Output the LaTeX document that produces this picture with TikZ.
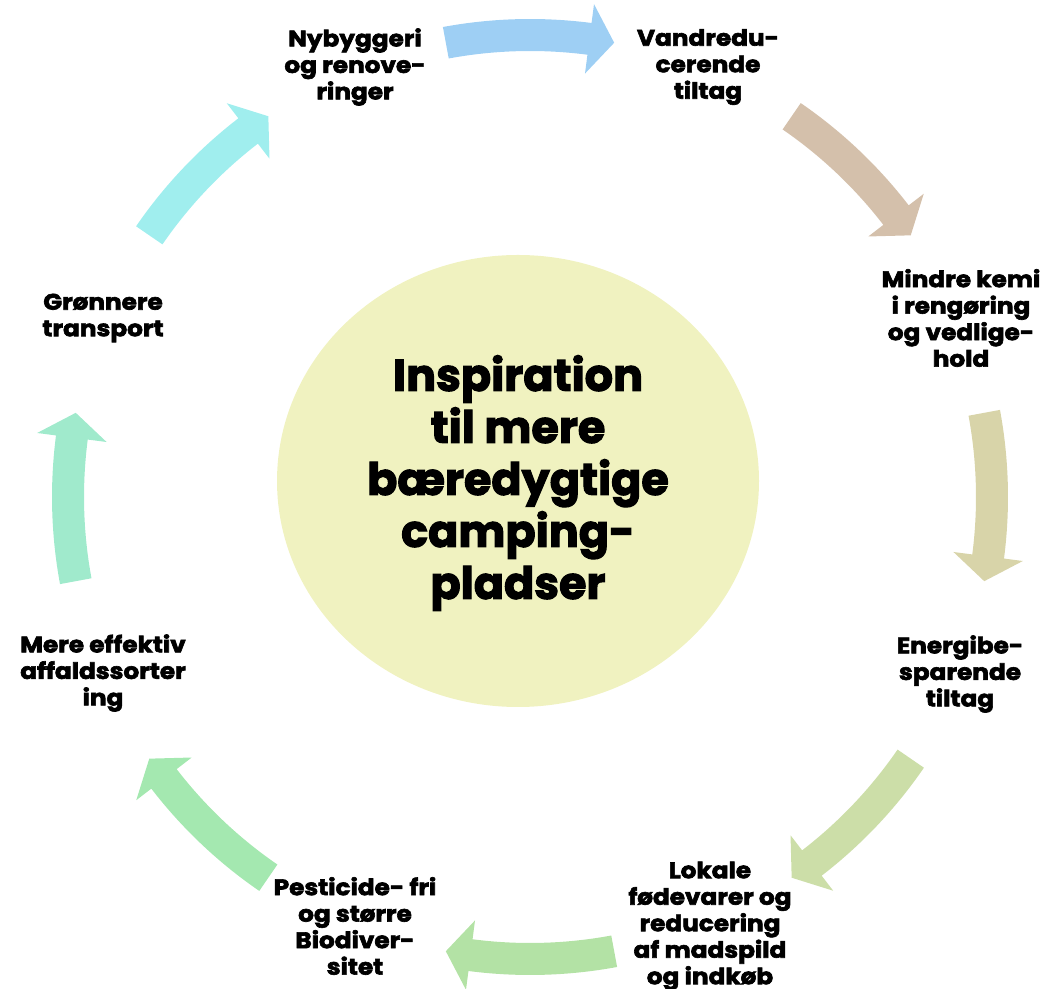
\documentclass[tikz,border=0pt]{standalone}
\usepackage{fontspec}
\setmainfont{Poppins}[BoldFeatures={FakeBold=2.5}]
\newfontfamily\lblfont{Poppins}[BoldFeatures={FakeBold=2.8, FakeStretch=1.1}]
\definecolor{arrA}{HTML}{9ECFF4}
\definecolor{arrB}{HTML}{D4C0AB}
\definecolor{arrC}{HTML}{D8D4A9}
\definecolor{arrD}{HTML}{CCDEA8}
\definecolor{arrE}{HTML}{B3E2A5}
\definecolor{arrF}{HTML}{A4E8B0}
\definecolor{arrG}{HTML}{A0EACC}
\definecolor{arrH}{HTML}{A0EEEE}
\definecolor{hub}{HTML}{F0F2C0}
\begin{document}
\begin{tikzpicture}[x=1pt,y=1pt,
  lbl/.style={align=center, inner sep=0pt, font=\lblfont\bfseries\fontsize{22.5}{26.5}\selectfont},
  ttl/.style={align=center, inner sep=0pt, font=\bfseries\fontsize{44.5}{52}\selectfont}]
\useasboundingbox (0,0) rectangle (1049,988);
\fill[hub] (518,507) ellipse [x radius=241pt, y radius=226pt];
\node[ttl] (title) at (518,505) {Inspiration\\til mere\\bæredygtige\\camping-\\pladser};
\foreach \a/\c in {90/arrA,45/arrB,0/arrC,-45/arrD,-90/arrE,-135/arrF,180/arrG,135/arrH}{
  \pgfmathsetmacro\ta{\a+10.5}
  \pgfmathsetmacro\hb{\a-7.4}
  \pgfmathsetmacro\tp{\a-10.5}
  \fill[\c, shift={(530,491)}] (\ta:478pt) arc[start angle=\ta, end angle=\hb, radius=478pt]
     -- (\hb:497pt) -- (\tp:462pt) -- (\hb:427pt) -- (\hb:446pt)
     arc[start angle=\hb, end angle=\ta, radius=446pt] -- cycle;
}
\node[lbl] (l1) at (355,921) {Nybyggeri\\og renove-\\ringer};
\node[lbl] (l2) at (708,921) {Vandredu-\\cerende\\tiltag};
\node[lbl] (l3) at (961,670) {Mindre kemi\\i rengøring\\og vedlige-\\hold};
\node[lbl] (l4) at (960,314) {Energibe-\\sparende\\tiltag};
\node[lbl] (l5) at (710,62) {Lokale\\fødevarer og\\reducering\\af madspild\\og indkøb};
\node[lbl] (l6) at (355,62) {Pesticide- fri\\og større\\Biodiver-\\sitet};
\node[lbl] (l7) at (103,315) {Mere effektiv\\affaldssorter\\ing};
\node[lbl] (l8) at (103,670) {Grønnere\\transport};
\end{tikzpicture}
\end{document}
